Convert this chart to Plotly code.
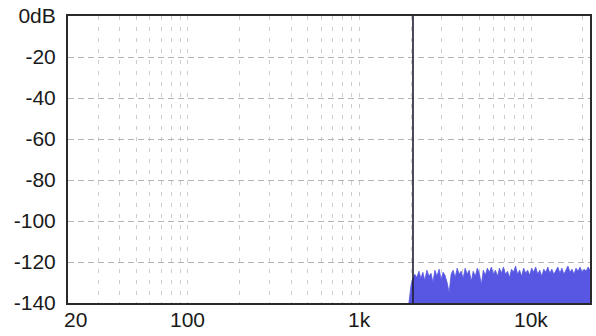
import math
import plotly.graph_objects as go

# ---- data ----
freq_hz = [1940, 1970, 2000, 2050, 2100, 2160, 2220, 2280, 2340, 2400, 2470, 2540, 2610, 2680, 2750,
           2830, 2910, 2990, 3070, 3150, 3240, 3330, 3420, 3510, 3610, 3710, 3810, 3910,
           4020, 4130, 4240, 4360, 4480, 4600, 4730, 4860, 4990, 5130, 5270, 5410, 5560,
           5710, 5870, 6030, 6200, 6370, 6540, 6720, 6900, 7090, 7290, 7490, 7690, 7900,
           8120, 8340, 8570, 8810, 9050, 9300, 9550, 9810, 10080, 10360, 10640, 10930,
           11230, 11540, 11860, 12180, 12520, 12860, 13210, 13570, 13940, 14330, 14720,
           15120, 15540, 15960, 16400, 16850, 17310, 17790, 18280, 18780, 19290, 19820,
           20370, 20930, 21500, 22050]
level_db = [-140, -136, -131, -128, -126, -127.5, -124.5, -128, -125, -129, -124, -127, -125.5, -130, -124,
            -127, -123.5, -128.5, -125, -126.5, -130, -135, -126, -124, -127.5, -123, -126, -124.5,
            -128, -123, -126, -124, -129.5, -124.5, -127, -123, -125.5, -131, -124, -126.5, -123,
            -125, -122.5, -126, -124, -127, -123, -125.5, -122.5, -126, -124.5, -127.5, -123.5, -125,
            -122, -126, -124, -127, -123, -125.5, -124, -126.5, -123, -125, -122.5, -126,
            -124, -127, -123.5, -125, -122.5, -125.5, -123.5, -126, -124, -122.5, -125.5,
            -123, -126, -124, -122, -125, -123.5, -126, -123, -124.5, -122.5, -125,
            -123.5, -124.5, -122.5, -124]
floor_db = -140
peak_freq = [2050, 2050]
peak_db = [-140, 0]

x_grid = [30, 40, 50, 60, 70, 80, 90, 100, 200, 300, 400, 500, 600, 700, 800, 900,
          1000, 2000, 3000, 4000, 5000, 6000, 7000, 8000, 9000, 10000, 20000]
x_label_vals = [22.1, 100, 1000, 10000]
x_label_text = ["20", "100", "1k", "10k"]
y_ticks = [0, -20, -40, -60, -80, -100, -120, -140]
y_text = ["0dB", "-20", "-40", "-60", "-80", "-100", "-120", "-140"]
x_min, x_max = 20, 22050

FONT = "Liberation Sans"

fig = go.Figure()
fig.add_trace(go.Scatter(x=freq_hz, y=[floor_db] * len(freq_hz), mode="lines",
                         line=dict(width=0, color="rgba(0,0,0,0)"), hoverinfo="skip",
                         showlegend=False))
fig.add_trace(go.Scatter(x=freq_hz, y=level_db, mode="lines", fill="tonexty",
                         fillcolor="#5757e3", line=dict(width=0.8, color="#5757e3"),
                         showlegend=False))
fig.add_trace(go.Scatter(x=peak_freq, y=peak_db, mode="lines",
                         line=dict(width=1.6, color="#1e1e30"), showlegend=False))

fig.update_xaxes(type="log", range=[math.log10(x_min), math.log10(x_max)],
                 tickvals=x_grid, showticklabels=False, ticks="",
                 showgrid=True, gridcolor="#cdcdcd", griddash="4px,7px", gridwidth=1,
                 showline=True, linecolor="#2a2a2a", linewidth=2, mirror=True,
                 zeroline=False)
fig.update_yaxes(range=[-140, 0], tickvals=y_ticks, ticktext=y_text, ticks="",
                 showgrid=True, gridcolor="#b4b4b4", griddash="6px,4px", gridwidth=1,
                 showline=True, linecolor="#2a2a2a", linewidth=2, mirror=True,
                 zeroline=False, ticklabelstandoff=6,
                 tickfont=dict(family=FONT, size=21, color="#1a1a1a"))

for v, t in zip(x_label_vals, x_label_text):
    fig.add_annotation(x=math.log10(v), y=0, xref="x", yref="paper", text=t,
                       showarrow=False, yanchor="top", yshift=-3,
                       font=dict(family=FONT, size=21, color="#1a1a1a"))

fig.update_layout(width=596, height=336, margin=dict(l=68, r=4, t=15, b=33),
                  paper_bgcolor="white", plot_bgcolor="white")

fig.write_html("out.html")
